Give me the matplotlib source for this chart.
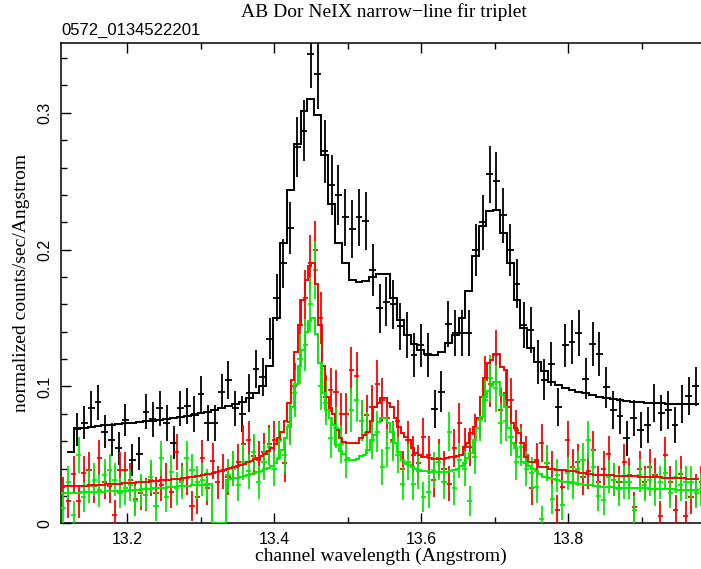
import numpy as np
import matplotlib
matplotlib.use("Agg")
import matplotlib.pyplot as plt
from matplotlib.ticker import MultipleLocator, FixedLocator, FixedFormatter

title = "AB Dor NeIX narrow\u2212line fir triplet"
subtitle = "0572_0134522201"
xlabel = "channel wavelength (Angstrom)"
ylabel = "normalized counts/sec/Angstrom"
y_ticks = [0.0, 0.1, 0.2, 0.3]
y_tick_labels = ["0", "0.1", "0.2", "0.3"]
x_ticks = [13.2, 13.4, 13.6, 13.8]
x_tick_labels = ["13.2", "13.4", "13.6", "13.8"]

# bin grids (first centre, width)
black_start, black_width = 13.1227, 0.009347
data_start, data_width = 13.1130, 0.0070
fine_start, fine_width = 13.1117, 0.004673

black_y = [np.nan, 0.0687, 0.0735, 0.084, 0.0884, 0.067, 0.061, 0.0548, 0.0755, 0.0463,
           0.0507, 0.0816, 0.076, 0.084, 0.0735, 0.059, 0.084, 0.0857, 0.080, 0.0945,
           0.0735, 0.0735, 0.0962, 0.1047, 0.084, 0.080, 0.095, 0.113, 0.1067, 0.135,
           0.165, 0.19, 0.2156, 0.275, 0.287, 0.343, 0.328, 0.272, 0.247, 0.240,
           0.2235, 0.215, 0.2235, 0.221, 0.185, 0.157, 0.162, 0.16, 0.144, 0.1376,
           0.123, 0.130, 0.123, 0.0833, 0.096, 0.1457, 0.139, 0.139, 0.139, 0.20,
           0.22, 0.255, 0.25, 0.225, 0.20, 0.175, 0.145, 0.1413, 0.118, 0.1048,
           0.1165, 0.0852, 0.130, 0.1327, 0.139, 0.1055, 0.1308, 0.124, 0.0994, 0.0828,
           0.0784, 0.0621, 0.0768, 0.0682, 0.0719, 0.0877, 0.0808, 0.0828, 0.0719, 0.0872,
           0.093, 0.10]
black_err = [0.012, 0.012, 0.012, 0.013, 0.013, 0.012, 0.012, 0.012, 0.012, 0.012,
             0.012, 0.013, 0.013, 0.013, 0.013, 0.012, 0.013, 0.013, 0.013, 0.013,
             0.013, 0.013, 0.013, 0.014, 0.013, 0.013, 0.014, 0.014, 0.014, 0.015,
             0.017, 0.018, 0.019, 0.022, 0.022, 0.025, 0.025, 0.023, 0.022, 0.022,
             0.021, 0.021, 0.021, 0.021, 0.019, 0.018, 0.018, 0.018, 0.017, 0.017,
             0.016, 0.016, 0.016, 0.014, 0.015, 0.017, 0.017, 0.017, 0.017, 0.019,
             0.020, 0.021, 0.021, 0.020, 0.019, 0.018, 0.017, 0.017, 0.016, 0.015,
             0.016, 0.014, 0.016, 0.016, 0.017, 0.015, 0.016, 0.016, 0.015, 0.014,
             0.013, 0.013, 0.013, 0.013, 0.013, 0.014, 0.013, 0.014, 0.013, 0.014,
             0.014, 0.014]
black_model = [0.052, 0.0694, 0.070, 0.0705, 0.071, 0.0715, 0.072, 0.0725, 0.073, 0.0735,
               0.074, 0.0745, 0.075, 0.0757, 0.0763, 0.077, 0.0778, 0.0786, 0.0795, 0.0805,
               0.0815, 0.0826, 0.084, 0.0855, 0.0872, 0.089, 0.0915, 0.095, 0.100, 0.115,
               0.150, 0.205, 0.2436, 0.277, 0.301, 0.310, 0.2985, 0.269, 0.2334, 0.205,
               0.190, 0.178, 0.176, 0.177, 0.180, 0.182, 0.182, 0.165, 0.1486, 0.1376,
               0.131, 0.127, 0.124, 0.123, 0.1254, 0.1316, 0.1376, 0.150, 0.170, 0.195,
               0.217, 0.228, 0.229, 0.212, 0.190, 0.163, 0.1425, 0.128, 0.118, 0.111,
               0.1035, 0.101, 0.099, 0.0975, 0.096, 0.095, 0.094, 0.0925, 0.0915, 0.091,
               0.090, 0.0895, 0.089, 0.0885, 0.088, 0.0877, 0.0877, 0.0875, 0.0874, 0.0873,
               0.0872, 0.0871]

red_y = [0.022, 0.016, 0.036, 0.016, 0.0365, 0.039, 0.027, 0.048, 0.030, 0.027,
         0.006, 0.039, 0.039, 0.032, 0.018, 0.022, 0.021, 0.032, 0.022, 0.028,
         0.032, 0.023, 0.052, 0.032, 0.033, 0.0126, 0.019, 0.048, 0.0256, 0.0455,
         0.030, 0.038, 0.034, 0.040, 0.045, 0.058, 0.061, 0.049, 0.046, 0.052,
         0.058, 0.061, 0.061, 0.044, 0.074, 0.100, 0.145, 0.165, 0.190, 0.200,
         0.150, 0.0925, 0.0975, 0.096, 0.080, 0.080, 0.112, 0.108, 0.075, 0.079,
         0.085, 0.102, 0.090, 0.0768, 0.061, 0.075, 0.040, 0.061, 0.050, 0.044,
         0.063, 0.050, 0.032, 0.0475, 0.040, 0.029, 0.055, 0.073, 0.056, 0.056,
         0.065, 0.077, 0.105, 0.102, 0.123, 0.083, 0.095, 0.090, 0.068, 0.0585,
         0.050, 0.0256, 0.046, 0.0585, 0.044, 0.040, 0.0097, 0.0267, 0.061, 0.041,
         0.045, 0.034, 0.038, 0.0536, 0.030, 0.040, 0.051, 0.032, 0.030, 0.045,
         0.035, 0.012, 0.040, 0.030, 0.041, 0.035, 0.005, 0.050, 0.030, 0.0097,
         0.036, 0.005, 0.019, 0.024, 0.030]
red_err = [0.012, 0.012, 0.013, 0.012, 0.013, 0.013, 0.012, 0.013, 0.012, 0.012,
           0.011, 0.013, 0.013, 0.012, 0.012, 0.012, 0.012, 0.012, 0.012, 0.012,
           0.012, 0.012, 0.013, 0.012, 0.012, 0.011, 0.012, 0.013, 0.012, 0.013,
           0.012, 0.013, 0.013, 0.013, 0.013, 0.014, 0.014, 0.014, 0.014, 0.014,
           0.014, 0.014, 0.014, 0.014, 0.015, 0.017, 0.019, 0.020, 0.021, 0.021,
           0.019, 0.016, 0.016, 0.016, 0.015, 0.015, 0.017, 0.017, 0.015, 0.015,
           0.016, 0.017, 0.016, 0.015, 0.014, 0.015, 0.013, 0.014, 0.014, 0.013,
           0.014, 0.014, 0.013, 0.014, 0.013, 0.013, 0.014, 0.015, 0.014, 0.014,
           0.015, 0.015, 0.017, 0.017, 0.018, 0.016, 0.016, 0.016, 0.015, 0.014,
           0.014, 0.012, 0.013, 0.014, 0.013, 0.013, 0.011, 0.012, 0.014, 0.013,
           0.013, 0.013, 0.013, 0.014, 0.012, 0.013, 0.013, 0.012, 0.012, 0.013,
           0.013, 0.011, 0.013, 0.012, 0.013, 0.013, 0.011, 0.013, 0.012, 0.011,
           0.013, 0.011, 0.012, 0.012, 0.012]

green_y = [0.011, 0.030, 0.006, 0.050, 0.0195, 0.027, 0.032, 0.024, 0.035, 0.039,
           0.032, 0.022, 0.0256, 0.028, 0.016, 0.024, 0.021, 0.034, 0.0126, 0.0475,
           0.0195, 0.0377, 0.0256, 0.030, 0.0475, 0.039, 0.030, 0.032, 0.028, np.nan,
           np.nan, np.nan, 0.035, 0.040, 0.028, 0.045, 0.038, 0.052, 0.030, 0.045,
           0.056, 0.040, 0.060, 0.050, 0.072, 0.095, 0.120, 0.130, 0.160, 0.185,
           0.100, 0.088, 0.062, 0.070, 0.058, 0.046, 0.083, 0.090, 0.075, 0.066,
           0.061, 0.067, 0.041, 0.0548, 0.0597, 0.050, 0.029, 0.045, 0.029, 0.038,
           0.0195, 0.023, 0.039, 0.045, 0.030, 0.067, 0.0256, 0.046, 0.040, 0.016,
           0.0487, 0.0755, 0.090, 0.106, 0.0986, 0.073, 0.075, 0.063, 0.045, 0.056,
           0.040, 0.0365, 0.0267, 0.003, 0.044, 0.018, 0.035, 0.0134, 0.0365, 0.030,
           0.040, 0.046, 0.061, 0.041, 0.020, 0.017, 0.034, 0.032, 0.025, 0.030,
           0.030, 0.0097, 0.035, 0.028, 0.032, 0.025, 0.030, 0.0365, 0.022, 0.034,
           0.028, 0.030, 0.030, 0.022, 0.025]
green_err = [0.011, 0.012, 0.010, 0.013, 0.011, 0.012, 0.012, 0.012, 0.012, 0.012,
             0.012, 0.011, 0.012, 0.012, 0.011, 0.012, 0.011, 0.012, 0.011, 0.013,
             0.011, 0.012, 0.012, 0.012, 0.013, 0.012, 0.012, 0.012, 0.012, 0.0,
             0.0, 0.0, 0.012, 0.013, 0.012, 0.013, 0.013, 0.013, 0.012, 0.013,
             0.014, 0.013, 0.014, 0.013, 0.015, 0.017, 0.018, 0.019, 0.020, 0.021,
             0.017, 0.016, 0.014, 0.015, 0.014, 0.013, 0.016, 0.016, 0.015, 0.015,
             0.014, 0.015, 0.013, 0.014, 0.014, 0.013, 0.012, 0.013, 0.012, 0.013,
             0.011, 0.012, 0.013, 0.013, 0.012, 0.014, 0.012, 0.013, 0.013, 0.011,
             0.013, 0.015, 0.016, 0.017, 0.017, 0.015, 0.015, 0.014, 0.013, 0.014,
             0.013, 0.012, 0.012, 0.010, 0.013, 0.011, 0.012, 0.011, 0.012, 0.012,
             0.013, 0.013, 0.014, 0.013, 0.011, 0.011, 0.012, 0.012, 0.012, 0.012,
             0.012, 0.010, 0.012, 0.012, 0.012, 0.012, 0.012, 0.012, 0.011, 0.012,
             0.012, 0.012, 0.012, 0.011, 0.012]

red_model = [0.0268, 0.0269, 0.0270, 0.0271, 0.0272, 0.0274, 0.0275, 0.0276, 0.0278, 0.0279,
             0.0280, 0.0282, 0.0283, 0.0285, 0.0286, 0.0288, 0.0289, 0.0290, 0.0291, 0.0293,
             0.0295, 0.0297, 0.0299, 0.0301, 0.0303, 0.0305, 0.0307, 0.0309, 0.0311, 0.0313,
             0.0316, 0.0318, 0.0321, 0.0324, 0.0327, 0.0330, 0.0333, 0.0337, 0.0341, 0.0345,
             0.0349, 0.0353, 0.0358, 0.0363, 0.0368, 0.0375, 0.0381, 0.0388, 0.0395, 0.0402,
             0.0410, 0.0418, 0.0427, 0.0436, 0.0446, 0.0457, 0.0468, 0.0480, 0.0494, 0.0510,
             0.0530, 0.0552, 0.0580, 0.0620, 0.0670, 0.0750, 0.0880, 0.1050, 0.1250, 0.1450,
             0.1630, 0.1780, 0.1880, 0.1900, 0.1750, 0.1450, 0.1150, 0.0920, 0.0840, 0.0800,
             0.0680, 0.0620, 0.0597, 0.0590, 0.0585, 0.0585, 0.0590, 0.0625, 0.0645, 0.0665,
             0.0750, 0.0850, 0.0880, 0.0914, 0.0914, 0.0877, 0.0850, 0.0768, 0.0706, 0.0663,
             0.0633, 0.0609, 0.0548, 0.0512, 0.0500, 0.0487, 0.0487, 0.0475, 0.0468, 0.0468,
             0.0468, 0.0468, 0.0475, 0.0487, 0.0487, 0.0495, 0.0500, 0.0560, 0.0585, 0.0658,
             0.0706, 0.0768, 0.0925, 0.1060, 0.1170, 0.1190, 0.1240, 0.1240, 0.1145, 0.1120,
             0.0850, 0.0730, 0.0694, 0.0658, 0.0585, 0.0487, 0.0450, 0.0450, 0.0445, 0.0414,
             0.0414, 0.0414, 0.0400, 0.0395, 0.0390, 0.0390, 0.0388, 0.0385, 0.0382, 0.0380,
             0.0375, 0.0370, 0.0365, 0.0360, 0.0358, 0.0356, 0.0354, 0.0353, 0.0352, 0.0351,
             0.0350, 0.0349, 0.0348, 0.0346, 0.0345, 0.0344, 0.0343, 0.0342, 0.0341, 0.0340,
             0.0339, 0.0338, 0.0337, 0.0336, 0.0335, 0.0334, 0.0333, 0.0332, 0.0331, 0.0330,
             0.0329, 0.0328, 0.0327, 0.0326, 0.0325, 0.0324]

green_model = [0.0220, 0.0221, 0.0222, 0.0223, 0.0224, 0.0225, 0.0226, 0.0227, 0.0228, 0.0229,
               0.0230, 0.0231, 0.0232, 0.0233, 0.0234, 0.0235, 0.0236, 0.0237, 0.0238, 0.0239,
               0.0241, 0.0243, 0.0245, 0.0247, 0.0249, 0.0251, 0.0253, 0.0255, 0.0257, 0.0259,
               0.0261, 0.0263, 0.0265, 0.0267, 0.0269, 0.0271, 0.0273, 0.0275, 0.0277, 0.0279,
               0.0281, 0.0283, 0.0285, 0.0287, 0.0, 0.0, 0.0, 0.0, 0.0317, 0.0322,
               0.0328, 0.0334, 0.0340, 0.0347, 0.0354, 0.0361, 0.0368, 0.0376, 0.0385, 0.0395,
               0.0407, 0.0420, 0.0440, 0.0480, 0.0536, 0.0620, 0.0706, 0.0850, 0.1020, 0.1150,
               0.1270, 0.1400, 0.1480, 0.1500, 0.1380, 0.1170, 0.0950, 0.0830, 0.0770, 0.0719,
               0.0570, 0.0530, 0.0510, 0.0480, 0.0460, 0.0460, 0.0470, 0.0490, 0.0500, 0.0536,
               0.0600, 0.0645, 0.0743, 0.0768, 0.0768, 0.0730, 0.0670, 0.0585, 0.0520, 0.0460,
               0.0435, 0.0426, 0.0410, 0.0400, 0.0390, 0.0385, 0.0380, 0.0377, 0.0375, 0.0373,
               0.0373, 0.0375, 0.0377, 0.0385, 0.0390, 0.0400, 0.0420, 0.0439, 0.0475, 0.0512,
               0.0610, 0.0700, 0.0780, 0.0925, 0.0970, 0.1000, 0.1035, 0.1035, 0.0940, 0.0850,
               0.0694, 0.0585, 0.0548, 0.0487, 0.0450, 0.0439, 0.0420, 0.0400, 0.0380, 0.0360,
               0.0340, 0.0335, 0.0330, 0.0322, 0.0315, 0.0310, 0.0304, 0.0299, 0.0295, 0.0292,
               0.0289, 0.0286, 0.0283, 0.0280, 0.0277, 0.0274, 0.0271, 0.0268, 0.0265, 0.0263,
               0.0262, 0.0261, 0.0260, 0.0259, 0.0258, 0.0257, 0.0257, 0.0256, 0.0256, 0.0256,
               0.0255, 0.0254, 0.0253, 0.0252, 0.0251, 0.0250, 0.0249, 0.0248, 0.0247, 0.0246,
               0.0246, 0.0245, 0.0245, 0.0244, 0.0244, 0.0243]

RED = "#ff0000"
GREEN = "#00ee00"

W, H = 701, 569
fig = plt.figure(figsize=(W / 100, H / 100), dpi=100)
L, R, T, B = 60.7, 701.0, 42.7, 523.3
ax = fig.add_axes([L / W, 1 - B / H, (R - L) / W, (B - T) / H])
ax.set_xlim(13.1094, 13.9806)
ax.set_ylim(0, 0.3512)


def centres(start, width, n):
    return start + width * np.arange(n)


def edges(start, width, n):
    return start - width / 2 + width * np.arange(n + 1)


bx = centres(black_start, black_width, len(black_y))
ax.errorbar(bx, black_y, yerr=black_err, xerr=black_width / 2, fmt="none",
            ecolor="black", elinewidth=1.3, capsize=0, zorder=3)
rx = centres(data_start, data_width, len(red_y))
ax.errorbar(rx, red_y, yerr=red_err, xerr=data_width / 2, fmt="none",
            ecolor=RED, elinewidth=1.3, capsize=0, zorder=3)
gx = centres(data_start, data_width, len(green_y))
ax.errorbar(gx, green_y, yerr=green_err, xerr=data_width / 2, fmt="none",
            ecolor=GREEN, elinewidth=1.3, capsize=0, zorder=3)

ax.stairs(black_model, edges(black_start, black_width, len(black_model)),
          color="black", lw=1.4, baseline=None, zorder=5)
ax.stairs(red_model, edges(fine_start, fine_width, len(red_model)),
          color=RED, lw=1.4, baseline=None, zorder=5)
ax.stairs(green_model, edges(fine_start, fine_width, len(green_model)),
          color=GREEN, lw=1.4, baseline=None, zorder=5)

ax.spines["right"].set_visible(False)
for s in ["left", "top", "bottom"]:
    ax.spines[s].set_linewidth(1.1)

ax.xaxis.set_major_locator(FixedLocator(x_ticks))
ax.xaxis.set_major_formatter(FixedFormatter(x_tick_labels))
ax.xaxis.set_minor_locator(MultipleLocator(0.1))
ax.yaxis.set_major_locator(FixedLocator(y_ticks))
ax.yaxis.set_major_formatter(FixedFormatter(y_tick_labels))
ax.yaxis.set_minor_locator(MultipleLocator(0.02))
ax.tick_params(which="both", direction="in", top=True, right=False, width=1)
ax.tick_params(which="major", length=7)
ax.tick_params(which="minor", length=4)
ax.tick_params(axis="x", labelsize=11.5, pad=6)
ax.tick_params(axis="y", labelsize=11.5, pad=6)
for lab in ax.get_xticklabels() + ax.get_yticklabels():
    lab.set_family("Liberation Sans")
for lab in ax.get_yticklabels():
    lab.set_rotation(90)
    lab.set_va("center")

ax.set_xlabel(xlabel, family="Liberation Serif", fontsize=14, labelpad=1)
ax.set_ylabel(ylabel, family="Liberation Serif", fontsize=14, labelpad=5)
fig.text(384 / W, 1 - 12 / H, title, family="Liberation Serif", fontsize=14,
         ha="center", va="center")
fig.text(61 / W, 1 - 30 / H, subtitle, family="Liberation Sans", fontsize=12,
         ha="left", va="center")

fig.savefig("out.png", dpi=100)
